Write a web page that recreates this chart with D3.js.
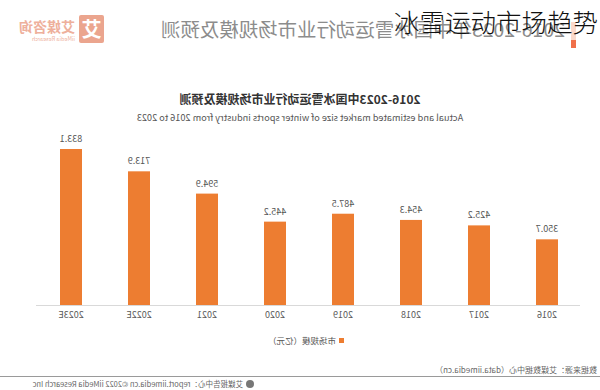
<!DOCTYPE html>
<html><head><meta charset="utf-8">
<script src="https://cdn.jsdelivr.net/npm/d3@7"></script>
<style>
html,body{margin:0;padding:0;background:#fff;}
svg{display:block;}
text{font-family:"Noto Sans CJK SC","Noto Sans",sans-serif;}
</style></head>
<body>
<svg id="c" width="600" height="390"></svg>
<script>
const categories = ["2016","2017","2018","2019","2020","2021","2022E","2023E"];
const values = [350.7,425.2,454.3,487.5,445.2,594.9,713.9,833.1];
const seriesName = "市场规模（亿元）";
const headerTitle = "2016-2023年中国冰雪运动行业市场规模及预测";
const chartTitle = "2016-2023中国冰雪运动行业市场规模及预测";
const chartSubtitle = "Actual and estimated market size of winter sports industry from 2016 to 2023";
const sourceText = "数据来源：艾媒数据中心（data.iimedia.cn）";
const footerText = "艾媒报告中心：report.iimedia.cn   ©2022  iiMedia Research Inc";
const overlayTitle = "冰雪运动市场趋势";

const svg = d3.select("#c");
svg.append("rect").attr("width",600).attr("height",390).attr("fill","#fff");

// mirrored picture
const g = svg.append("g").attr("transform","translate(600,0) scale(-1,1)");

// logo
g.append("rect").attr("x",496).attr("y",15).attr("width",25).attr("height",28).attr("rx",2).attr("fill","#eba58e");
g.append("text").attr("x",508.5).attr("y",37).attr("text-anchor","middle").attr("font-size",20).attr("font-weight","bold").attr("fill","#fff").text("艾");
g.append("text").attr("x",525).attr("y",32).attr("font-size",14).attr("font-weight","bold").attr("fill","#eeb09c").text("艾媒咨询");
g.append("text").attr("x",525).attr("y",41).attr("font-size",5.5).attr("fill","#eeb09c").text("iiMedia Research");

// header
g.append("rect").attr("x",24).attr("y",40).attr("width",5).attr("height",8).attr("fill","#f0704a");
g.append("rect").attr("x",24).attr("y",22).attr("width",5).attr("height",18).attr("fill","#f7c0a8").attr("opacity",0.6);
g.append("text").attr("x",35).attr("y",37).attr("font-size",19).attr("textLength",404).attr("lengthAdjust","spacingAndGlyphs").attr("fill","#8c8c8c").text(headerTitle);

// titles
g.append("text").attr("x",300).attr("y",104).attr("text-anchor","middle").attr("font-size",12).attr("font-weight","bold").attr("fill","#333").text(chartTitle);
g.append("text").attr("x",300).attr("y",121).attr("text-anchor","middle").attr("font-size",9.2).attr("fill","#555").text(chartSubtitle);

// scales
const x = d3.scaleBand().domain(categories).range([19,563]).paddingInner(1-22/68).paddingOuter((1-22/68)/2);
const y = d3.scaleLinear().domain([0,833.1]).range([305,149]);

// axis line
g.append("line").attr("x1",20).attr("x2",564).attr("y1",305.5).attr("y2",305.5).attr("stroke","#d9d9d9").attr("stroke-width",1);

// bars
g.selectAll("rect.bar").data(values).join("rect").attr("class","bar")
  .attr("x",(d,i)=>x(categories[i])).attr("width",x.bandwidth())
  .attr("y",d=>y(d)).attr("height",d=>y(0)-y(d)).attr("fill","#ed7d31");

// value labels
g.selectAll("text.val").data(values).join("text").attr("class","val")
  .attr("x",(d,i)=>x(categories[i])+x.bandwidth()/2).attr("y",d=>y(d)-7)
  .attr("text-anchor","middle").attr("font-size",9).attr("fill","#555").text(d=>d.toFixed(1));

// category labels
const xAxis = d3.axisBottom(x).tickSize(0).tickPadding(0);
const ax = g.append("g").attr("transform","translate(0,312)").call(xAxis);
ax.select(".domain").remove();
ax.selectAll("text").attr("font-size",9).attr("fill","#595959").attr("dy","0.71em")
  .style("font-family","'Noto Sans CJK SC','Noto Sans',sans-serif");

// legend
g.append("rect").attr("x",256).attr("y",338).attr("width",5).attr("height",5).attr("fill","#ed7d31");
g.append("text").attr("x",264).attr("y",344).attr("font-size",8.5).attr("fill","#555").text(seriesName);

// source & footer
g.append("text").attr("x",3).attr("y",373).attr("font-size",8).attr("fill","#666").text(sourceText);
g.append("line").attr("x1",0).attr("x2",600).attr("y1",376.5).attr("y2",376.5).attr("stroke","#9a9a9a").attr("stroke-width",1);
g.append("circle").attr("cx",350).attr("cy",384).attr("r",4).attr("fill","#777");
g.append("text").attr("x",357).attr("y",387).attr("font-size",7.5).attr("fill","#666").text(footerText);

// overlay title (not mirrored)
svg.append("text").attr("x",394).attr("y",32).attr("font-size",25.5).attr("font-weight",300).attr("fill","#111").text(overlayTitle);
</script>
</body></html>
